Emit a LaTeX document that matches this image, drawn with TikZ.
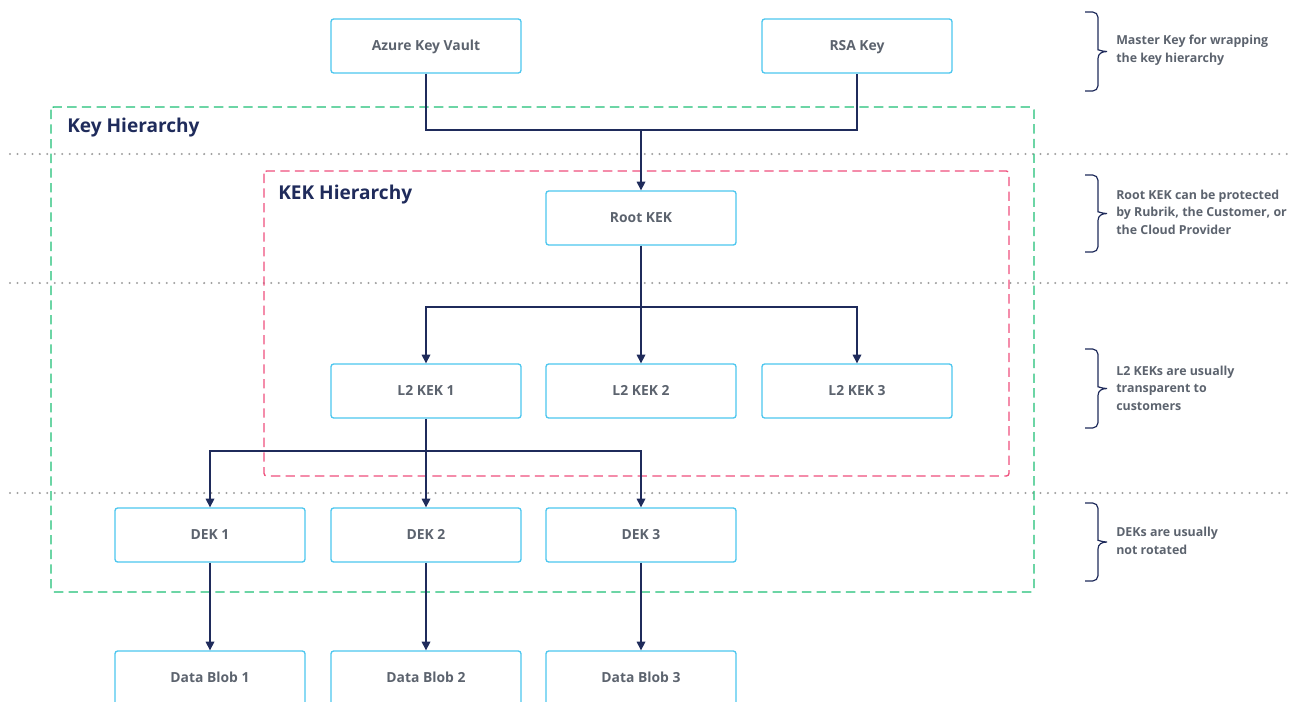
\documentclass[tikz,border=0pt]{standalone}
\usepackage{fontspec}
\setmainfont{Open Sans}
\usetikzlibrary{arrows.meta,positioning}

\definecolor{boxblue}{HTML}{4CC6EE}
\definecolor{boxtext}{HTML}{5C636E}
\definecolor{navy}{HTML}{1F2B5B}
\definecolor{keygreen}{HTML}{1DBE74}
\definecolor{kekpink}{HTML}{EE4F7C}
\definecolor{dotgray}{HTML}{A0A0A0}

\begin{document}
\begin{tikzpicture}[x=0.75pt, y=-0.75pt]
    % Define styles
    \tikzset{
        keybox/.style = {rectangle, minimum width=142.5pt, minimum height=40.5pt, text centered, text height=7.6pt, text depth=0.4pt, draw=boxblue, line width=1pt, rounded corners=2pt, text=boxtext, font=\fontsize{10.4}{12}\selectfont\bfseries},
        line/.style = {draw=navy, line width=0.9pt},
        arrow/.style = {line, -{Triangle[length=6.5pt, width=6.5pt]}},
        layer/.style = {draw=dotgray, line width=1.7pt, line cap=round, dash pattern=on 0pt off 5.6pt},
        region/.style = {line width=1pt, dash pattern=on 7pt off 4pt, rounded corners=2pt},
        regionlabel/.style = {anchor=west, text=navy, font=\fontsize{14.3}{16}\selectfont\bfseries, inner sep=0pt},
        bracestroke/.style = {draw=navy, line width=0.9pt},
        sidenote/.style = {anchor=west, align=left, text=boxtext, inner sep=0pt, font=\fontsize{9.3}{13.2}\selectfont\bfseries}
    }
    \useasboundingbox (0,0) rectangle (1291,701);

    % Layer separators
    \foreach \ly in {154, 283, 493}
        \draw [layer] (10,\ly) -- (1289,\ly);

    % Regions
    \draw [region, draw=keygreen] (51,107) rectangle (1034,592);
    \draw [region, draw=kekpink] (264,171) rectangle (1009,476);
    \node (keylabel) [regionlabel] at (67,128) {Key Hierarchy};
    \node (keklabel) [regionlabel] at (278,195) {KEK Hierarchy};

    % Key nodes
    \node (azure) [keybox] at (426,46) {Azure Key Vault};
    \node (rsa) [keybox] at (857,46) {RSA Key};
    \node (root) [keybox] at (641,218) {Root KEK};
    \node (l2a) [keybox] at (426,391) {L2 KEK 1};
    \node (l2b) [keybox] at (641,391) {L2 KEK 2};
    \node (l2c) [keybox] at (857,391) {L2 KEK 3};
    \node (deka) [keybox] at (210,535) {DEK 1};
    \node (dekb) [keybox] at (426,535) {DEK 2};
    \node (dekc) [keybox] at (641,535) {DEK 3};
    \node (bloba) [keybox] at (210,678) {Data Blob 1};
    \node (blobb) [keybox] at (426,678) {Data Blob 2};
    \node (blobc) [keybox] at (641,678) {Data Blob 3};

    % Junctions
    \coordinate (masterjoin) at (641,130);
    \coordinate (rootsplit) at (641,307);
    \coordinate (deksplit) at (426,451);

    % Arrows
    \draw [line] (azure.south) |- (masterjoin) -| (rsa.south);
    \draw [arrow] (masterjoin) -- (root.north);
    \draw [arrow] (root.south) -- (l2b.north);
    \draw [arrow] (rootsplit) -| (l2a.north);
    \draw [arrow] (rootsplit) -| (l2c.north);
    \draw [arrow] (l2a.south) -- (dekb.north);
    \draw [arrow] (deksplit) -| (deka.north);
    \draw [arrow] (deksplit) -| (dekc.north);
    \draw [arrow] (deka) -- (bloba);
    \draw [arrow] (dekb) -- (blobb);
    \draw [arrow] (dekc) -- (blobc);

    % Side braces
    \foreach \bt/\bb in {12/91, 175/252, 349/428, 503/581} {
        \pgfmathsetmacro{\bm}{(\bt+\bb)/2}
        \draw [bracestroke, rounded corners=4pt] (1085,\bt) -- (1098,\bt) -- (1098,\bm-7)
            [sharp corners] .. controls (1098,\bm-2) and (1102,\bm) .. (1107,\bm)
            .. controls (1102,\bm) and (1098,\bm+2) .. (1098,\bm+7)
            [rounded corners=4pt] -- (1098,\bb) -- (1085,\bb);
    }

    % Side notes
    \node (masternote) [sidenote] at (1116,50) {Master Key for wrapping\\the key hierarchy};
    \node (rootnote) [sidenote] at (1116,212) {Root KEK can be protected\\by Rubrik, the Customer, or\\the Cloud Provider};
    \node (l2note) [sidenote] at (1116,388) {L2 KEKs are usually\\transparent to\\customers};
    \node (deknote) [sidenote] at (1116,541) {DEKs are usually\\not rotated};
\end{tikzpicture}
\end{document}
